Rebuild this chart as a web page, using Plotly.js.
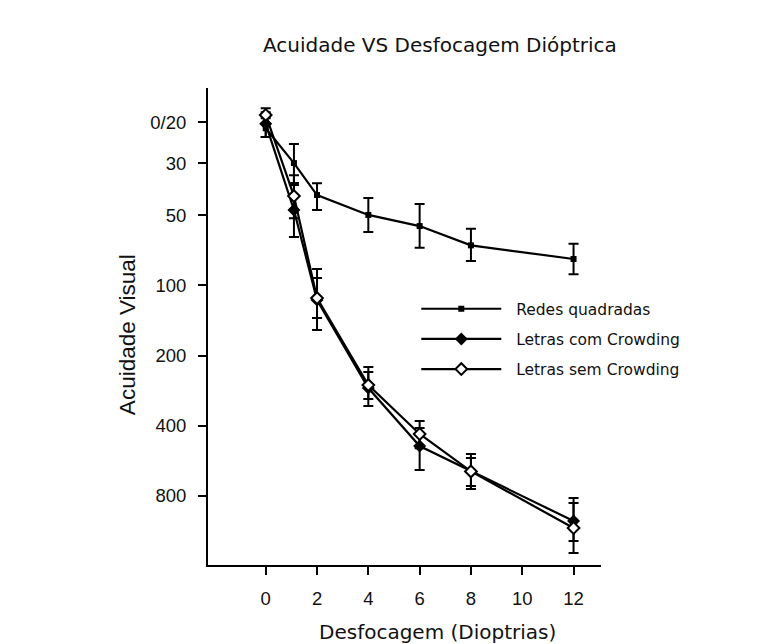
<!DOCTYPE html>
<html>
<head>
<meta charset="utf-8">
<script src="https://cdn.plot.ly/plotly-3.0.1.min.js"></script>
<style>
  html, body { margin: 0; padding: 0; background: #ffffff; }
  #chart { width: 763px; height: 644px; }
</style>
</head>
<body>
<div id="chart"></div>
<script>
// Defocus levels (dioptres)
const dioptrias = [0, 1.1, 2, 4, 6, 8, 12];

// Acuity (Snellen denominator, 20/x) per condition, with the ends of each error bar
const redes      = [21.2, 29.9, 41.0, 49.9, 55.7, 67.4, 77.1];
const redesTopo  = [19.2, 24.8, 36.5, 42.2, 44.8, 57.2, 66.3];
const redesBase  = [23.1, 36.4, 47.5, 59.1, 69.0, 78.7, 89.7];

const comCrowding = [20.3, 47.5, 115.6, 275.7, 488.8, 625.6, 1025];
const comTopo     = [18.1, 37.1, 85.1, 224, 409, 529, 817];
const comBase     = [23.1, 62.1, 155.5, 329, 619, 747, 1249];

const semCrowding = [18.6, 41.4, 113.4, 267.6, 434, 628, 1098];
const semTopo     = [17.4, 33.7, 93.1, 235.4, 382, 550, 858];
const semBase     = [20.3, 51.5, 138, 307, 499, 725, 1406];

const nomes = ['Redes quadradas', 'Letras com Crowding', 'Letras sem Crowding'];

const yTickVals = [20, 30, 50, 100, 200, 400, 800];
const yTickText = ['0/20', '30', '50', '100', '200', '400', '800'];
const xTickVals = [0, 2, 4, 6, 8, 10, 12];

function errorBars(values, topo, base) {
  return {
    type: 'data',
    symmetric: false,
    array: values.map((v, i) => base[i] - v),
    arrayminus: values.map((v, i) => v - topo[i]),
    color: '#000000',
    thickness: 2,
    width: 5
  };
}

function serie(nome, values, topo, base, marker, grupo) {
  return {
    type: 'scatter',
    mode: 'lines+markers',
    // small non-breaking gap between the legend sample line and its label
    name: '\u00a0\u00a0' + nome,
    legendgroup: grupo,
    x: dioptrias,
    y: values,
    line: { color: '#000000', width: 2.2 },
    marker: marker,
    error_y: errorBars(values, topo, base)
  };
}

const traces = [
  serie(nomes[0], redes, redesTopo, redesBase,
        { symbol: 'square', size: 6, color: '#000000' }, 'g1'),
  serie(nomes[1], comCrowding, comTopo, comBase,
        { symbol: 'diamond', size: 10, color: '#000000' }, 'g2'),
  serie(nomes[2], semCrowding, semTopo, semBase,
        { symbol: 'diamond', size: 9, color: '#ffffff', line: { color: '#000000', width: 2 } }, 'g3')
];

const tickFont = { family: '"Liberation Sans", Arial, sans-serif', size: 18.5, color: '#111111' };
const sansFont = '"DejaVu Sans", Verdana, sans-serif';

const layout = {
  width: 763,
  height: 644,
  margin: { l: 208, r: 162, t: 88, b: 79 },
  paper_bgcolor: '#ffffff',
  plot_bgcolor: '#ffffff',
  showlegend: true,
  title: {
    text: 'Acuidade VS Desfocagem Dióptrica',
    font: { family: sansFont, size: 20, color: '#111111' },
    xref: 'paper', x: 0.59, xanchor: 'center',
    yref: 'container', y: 0.93, yanchor: 'middle'
  },
  xaxis: {
    range: [-2.25, 13.07],
    tickvals: xTickVals,
    ticks: 'outside', ticklen: 8, tickwidth: 2, tickcolor: '#000000',
    ticklabelstandoff: 8,
    showgrid: false, zeroline: false,
    showline: true, linecolor: '#000000', linewidth: 2,
    tickfont: tickFont
  },
  yaxis: {
    type: 'log',
    range: [Math.log10(1582), Math.log10(14.25)],
    tickvals: yTickVals,
    ticktext: yTickText,
    ticks: 'outside', ticklen: 8, tickwidth: 2, tickcolor: '#000000',
    ticklabelstandoff: 8,
    showgrid: false, zeroline: false,
    showline: true, linecolor: '#000000', linewidth: 2,
    tickfont: tickFont
  },
  legend: {
    x: 0.53, xanchor: 'left',
    y: 0.572, yanchor: 'top',
    bgcolor: 'rgba(0,0,0,0)',
    traceorder: 'grouped',
    tracegroupgap: 7,
    itemwidth: 80,
    font: { family: sansFont, size: 15.5, color: '#111111' }
  },
  annotations: [
    {
      text: 'Desfocagem (Dioptrias)',
      xref: 'paper', yref: 'paper',
      x: 0.584, y: -0.1405, xanchor: 'center', yanchor: 'middle',
      showarrow: false,
      font: { family: sansFont, size: 20, color: '#111111' }
    },
    {
      text: 'Acuidade Visual',
      xref: 'paper', yref: 'paper',
      x: -0.206, y: 0.482, xanchor: 'center', yanchor: 'middle',
      textangle: -90,
      showarrow: false,
      font: { family: '"Liberation Sans", Arial, sans-serif', size: 22.5, color: '#111111' }
    }
  ]
};

Plotly.newPlot('chart', traces, layout, { displayModeBar: false, staticPlot: true });
</script>
</body>
</html>
